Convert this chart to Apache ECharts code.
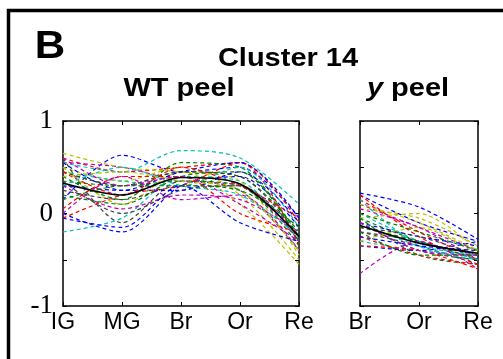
<!DOCTYPE html>
<html>
<head>
<meta charset="utf-8">
<script src="https://cdn.jsdelivr.net/npm/echarts@6/dist/echarts.min.js"></script>
<style>
html, body { margin: 0; padding: 0; background: #fff; }
#chart { width: 503px; height: 359px; }
</style>
</head>
<body>
<div id="chart"></div>
<script>
// stages
const wtStages = ['IG', 'MG', 'Br', 'Or', 'Re']
const yStages = ['Br', 'Or', 'Re']
const yTickLabels = [-1, 0, 1]

// gene profiles, WT peel (IG, MG, Br, Or, Re)
const wtProfiles = [
  [0.15, 0.63, 0.45, 0.50, -0.05],
  [0.45, 0.30, 0.45, 0.40, -0.20],
  [0.60, 0.45, 0.50, 0.55, -0.10],
  [-0.20, -0.05, 0.40, 0.35, -0.30],
  [0.55, 0.50, 0.35, 0.30, -0.30],
  [0.50, 0.35, 0.50, 0.20, -0.50],
  [0.60, -0.10, 0.35, 0.25, -0.40],
  [0.00, -0.20, 0.30, 0.40, -0.15],
  [0.40, 0.15, 0.55, 0.50, -0.25],
  [-0.05, 0.20, 0.30, 0.55, -0.35],
  [0.55, 0.45, 0.68, 0.60, 0.10],
  [0.30, 0.05, 0.20, 0.15, -0.20],
  [0.65, 0.50, 0.45, 0.35, -0.45],
  [0.35, 0.00, 0.25, 0.30, -0.30],
  [0.30, 0.25, 0.25, 0.45, -0.10],
  [0.35, 0.30, 0.35, 0.30, -0.35],
  [0.05, 0.40, 0.40, 0.00, -0.20],
  [0.45, 0.35, 0.30, 0.50, -0.15],
  [0.00, 0.40, 0.15, 0.20, -0.40],
  [0.50, 0.10, 0.45, 0.10, -0.55],
  [0.45, 0.30, 0.45, 0.40, -0.25],
  [0.55, 0.25, 0.45, 0.55, -0.05],
  [0.20, 0.10, 0.40, 0.45, -0.30],
  [0.45, 0.20, 0.50, 0.30, -0.05],
  [0.30, 0.50, 0.30, 0.20, -0.25],
  [0.60, 0.30, 0.40, 0.10, -0.30],
  [0.40, 0.45, 0.35, 0.25, -0.40],
  [0.25, 0.15, 0.30, 0.30, -0.25],
  [-0.05, -0.15, 0.30, -0.10, -0.30],
  [0.15, 0.30, 0.30, 0.25, -0.15]
]

// same genes, y peel (Br, Or, Re)
const yProfiles = [
  [0.22, 0.07, -0.28],
  [-0.05, -0.30, -0.45],
  [0.15, -0.20, -0.50],
  [-0.10, -0.35, -0.45],
  [0.10, -0.15, -0.40],
  [0.05, -0.05, -0.35],
  [-0.20, -0.35, -0.55],
  [0.20, -0.10, -0.30],
  [-0.15, -0.30, -0.50],
  [0.20, -0.25, -0.55],
  [-0.30, -0.40, -0.45],
  [0.05, -0.15, -0.50],
  [-0.05, 0.00, -0.40],
  [-0.20, -0.30, -0.50],
  [-0.10, -0.25, -0.35],
  [-0.05, -0.45, -0.55],
  [-0.25, -0.45, -0.55],
  [0.00, -0.30, -0.50],
  [-0.65, -0.30, -0.60],
  [-0.30, -0.15, -0.45],
  [-0.10, -0.40, -0.50],
  [-0.35, -0.40, -0.30],
  [-0.20, -0.45, -0.45],
  [-0.35, -0.40, -0.60],
  [0.15, -0.35, -0.50],
  [-0.10, -0.40, -0.45],
  [0.10, -0.10, -0.40],
  [-0.15, -0.25, -0.45],
  [-0.25, -0.35, -0.40],
  [0.00, -0.20, -0.40]
]

// cluster centroid
const wtMean = [0.33, 0.20, 0.39, 0.32, -0.25]
const yMean = [-0.13, -0.32, -0.43]

// matlab line colours b g r c m y k
const palette = ['#0000ff', '#008000', '#ff0000', '#00bfbf', '#bf00bf', '#bfbf00', '#404040']

const chart = echarts.init(document.getElementById('chart'))

const axisLine = { show: true, onZero: false, lineStyle: { color: '#000', width: 1.5 } }
const tick = { show: true, inside: true, length: 4, lineStyle: { color: '#000', width: 1 } }

const makeX = (grid, data, pos, labels) => ({
  type: 'category',
  gridIndex: grid,
  position: pos,
  data: data,
  boundaryGap: false,
  axisLine: axisLine,
  axisTick: { ...tick, alignWithLabel: true },
  axisLabel: labels ? {
    show: true,
    color: '#000',
    fontFamily: 'Liberation Sans',
    fontSize: 23,
    margin: 5
  } : { show: false },
  splitLine: { show: false }
})

const makeY = (grid, pos, labels) => ({
  type: 'value',
  gridIndex: grid,
  position: pos,
  min: -1,
  max: 1,
  interval: 0.5,
  axisLine: axisLine,
  axisTick: tick,
  axisLabel: labels ? {
    show: true,
    color: '#000',
    fontFamily: 'Liberation Serif',
    fontSize: 27,
    margin: 10,
    formatter: (v) => (yTickLabels.indexOf(v) >= 0 ? String(v) : '')
  } : { show: false },
  splitLine: { show: false }
})

const series = []
wtProfiles.forEach((row, i) => {
  series.push({
    type: 'line',
    xAxisIndex: 0,
    yAxisIndex: 0,
    data: row,
    smooth: 0.3,
    symbol: 'none',
    silent: true,
    lineStyle: { color: palette[i % 7], width: 1.2, type: [4, 3] }
  })
})
yProfiles.forEach((row, i) => {
  series.push({
    type: 'line',
    xAxisIndex: 2,
    yAxisIndex: 2,
    data: row,
    smooth: 0.3,
    symbol: 'none',
    silent: true,
    lineStyle: { color: palette[i % 7], width: 1.2, type: [4, 3] }
  })
})
series.push({
  type: 'line', xAxisIndex: 0, yAxisIndex: 0, data: wtMean, smooth: 0.3,
  symbol: 'none', z: 5, lineStyle: { color: '#000', width: 1.6 }
})
series.push({
  type: 'line', xAxisIndex: 2, yAxisIndex: 2, data: yMean, smooth: 0.3,
  symbol: 'none', z: 5, lineStyle: { color: '#000', width: 1.6 }
})

const titleStyle = { fontFamily: 'Liberation Sans', fontWeight: 'bold', fontSize: 25, fill: '#000', align: 'center', verticalAlign: 'middle' }

const options = {
  animation: false,
  backgroundColor: '#fff',
  grid: [
    { left: 63, top: 121, width: 236, height: 185 },
    { left: 360, top: 121, width: 118, height: 185 }
  ],
  xAxis: [
    makeX(0, wtStages, 'bottom', true),
    makeX(0, wtStages, 'top', false),
    makeX(1, yStages, 'bottom', true),
    makeX(1, yStages, 'top', false)
  ],
  yAxis: [
    makeY(0, 'left', true),
    makeY(0, 'right', false),
    makeY(1, 'left', false),
    makeY(1, 'right', false)
  ],
  graphic: [
    {
      type: 'rect',
      shape: { x: 8.5, y: 10.5, width: 600, height: 400 },
      style: { fill: 'none', stroke: '#000', lineWidth: 3.5 }
    },
    {
      type: 'text', x: 50, y: 47, scaleX: 1.08,
      style: { ...titleStyle, text: 'B', fontSize: 39 }
    },
    {
      type: 'text', x: 288, y: 59, scaleX: 1.16,
      style: { ...titleStyle, text: 'Cluster 14' }
    },
    {
      type: 'text', x: 179, y: 89, scaleX: 1.16,
      style: { ...titleStyle, text: 'WT peel' }
    },
    {
      type: 'text', x: 408, y: 89, scaleX: 1.16,
      style: {
        ...titleStyle,
        text: '{i|y} peel',
        rich: { i: { fontFamily: 'Liberation Sans', fontWeight: 'bold', fontStyle: 'italic', fontSize: 25, fill: '#000' } }
      }
    }
  ],
  series: series
}
chart.setOption(options)
window.addEventListener('resize', function () {
  chart && chart.resize()
})
</script>
</body>
</html>
